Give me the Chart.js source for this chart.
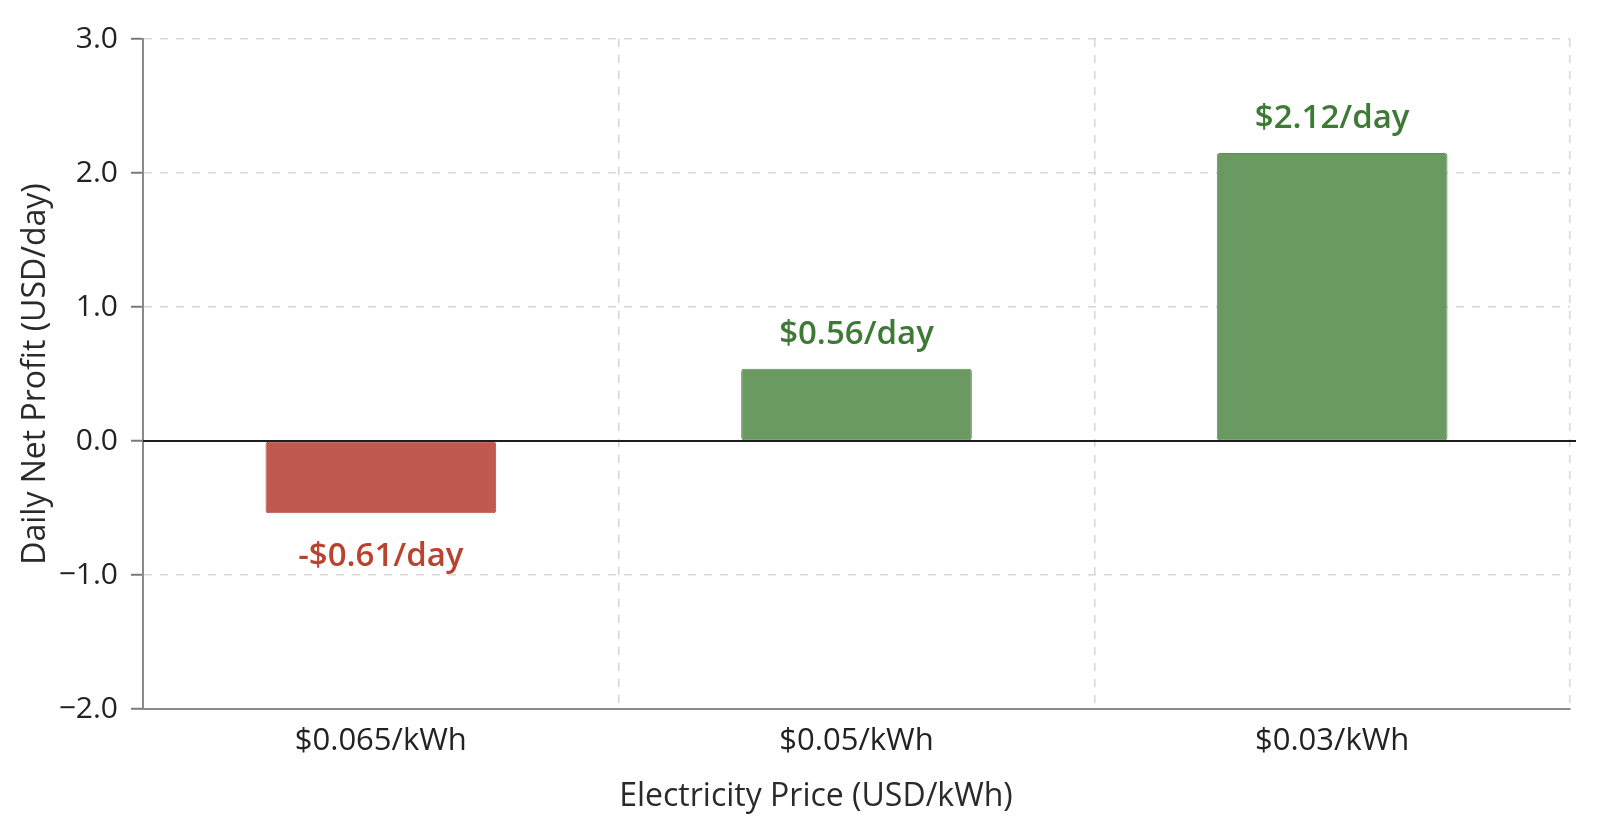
<!DOCTYPE html>
<html><head><meta charset="utf-8">
<script src="https://cdn.jsdelivr.net/npm/chart.js@4.4.1/dist/chart.umd.min.js"></script>
<style>html,body{margin:0;padding:0;background:#fff}#wrap{width:1600px;height:834px}</style>
</head><body><div id="wrap"><canvas id="c" width="1600" height="834"></canvas></div>
<script>
const categories = ['$0.065/kWh', '$0.05/kWh', '$0.03/kWh'];
const profitValues = [-0.54, 0.54, 2.15];
const valueLabels = ['-$0.61/day', '$0.56/day', '$2.12/day'];
const yMin = -2, yMax = 3, yStep = 1;
const xTitle = 'Electricity Price (USD/kWh)';
const yTitle = 'Daily Net Profit (USD/day)';

const FONT = '"Open Sans", "Noto Sans", sans-serif';

const zeroLine = {
  id: 'zeroLine',
  afterDatasetsDraw(chart) {
    const {ctx, chartArea} = chart;
    const y = chart.scales.y.getPixelForValue(0);
    ctx.save();
    ctx.strokeStyle = '#1e1e1e';
    ctx.lineWidth = 2;
    ctx.beginPath();
    ctx.moveTo(chartArea.left, y);
    ctx.lineTo(chartArea.right + 6, y);
    ctx.stroke();
    ctx.restore();
  }
};

const valueLabelPlugin = {
  id: 'valueLabels',
  afterDatasetsDraw(chart) {
    const ctx = chart.ctx;
    const meta = chart.getDatasetMeta(0);
    ctx.save();
    ctx.font = '600 33px ' + FONT;
    ctx.textAlign = 'center';
    ctx.textBaseline = 'middle';
    meta.data.forEach((bar, i) => {
      const v = profitValues[i];
      ctx.fillStyle = v < 0 ? '#b8432f' : '#3e7a36';
      const y = v < 0 ? bar.y + 43 : bar.y - 34;
      ctx.fillText(valueLabels[i], bar.x, y);
    });
    ctx.restore();
  }
};

// x-axis title, centred on the page as in the reference
const xTitlePlugin = {
  id: 'xTitle',
  afterDraw(chart) {
    const ctx = chart.ctx;
    ctx.save();
    ctx.font = '32px ' + FONT;
    ctx.fillStyle = '#2a2a2a';
    ctx.textAlign = 'center';
    ctx.textBaseline = 'middle';
    ctx.fillText(xTitle, chart.width / 2 + 16, chart.scales.x.bottom - 37);
    ctx.restore();
  }
};

function draw() {
  new Chart(document.getElementById('c'), {
    type: 'bar',
    data: {
      labels: categories,
      datasets: [{
        data: profitValues,
        backgroundColor: profitValues.map(v => v < 0 ? '#c05a50' : '#6a9a62'),
        borderColor: profitValues.map(v => v < 0 ? '#b24e44' : '#5f8f57'),
        borderWidth: 1,
        borderRadius: 3,
        borderSkipped: false,
        categoryPercentage: 1,
        barPercentage: 0.485
      }]
    },
    options: {
      responsive: false,
      devicePixelRatio: 1,
      animation: false,
      layout: {padding: {left: 0, top: 39, right: 30, bottom: 0}},
      plugins: {legend: {display: false}, tooltip: {enabled: false}},
      scales: {
        x: {
          grid: {
            offset: true,
            drawTicks: false,
            color: ctx => (ctx.index === 0 || ctx.index === categories.length) ? 'rgba(0,0,0,0)' : '#d6d6d6',
            lineWidth: 1.5
          },
          border: {display: true, color: '#8a8a8a', width: 2, dash: [8, 8]},
          ticks: {color: '#222', font: {family: FONT, size: 31}, padding: 14},
          title: {display: false, text: xTitle},
          afterFit: s => { s.height = 125; }
        },
        y: {
          min: yMin, max: yMax,
          ticks: {
            stepSize: yStep,
            color: '#222',
            font: {family: FONT, size: 30},
            padding: 13,
            callback: v => (v < 0 ? '\u2212' : '') + Math.abs(v).toFixed(1)
          },
          grid: {
            drawTicks: true,
            tickLength: 12,
            tickColor: '#7a7a7a',
            tickWidth: 2,
            tickBorderDash: [],
            color: ctx => (ctx.tick && ctx.tick.value === 0) ? 'rgba(0,0,0,0)' : '#d6d6d6',
            lineWidth: 1.5
          },
          border: {display: true, color: '#8a8a8a', width: 2, dash: [8, 8]},
          title: {display: true, text: yTitle, color: '#2a2a2a', font: {family: FONT, size: 32}, padding: {top: 17, bottom: 0}},
          afterFit: s => { s.width = 143; }
        }
      }
    },
    plugins: [zeroLine, valueLabelPlugin, xTitlePlugin]
  });
}

Promise.all([
  document.fonts.load('30px "Open Sans"'),
  document.fonts.load('600 33px "Open Sans"')
]).then(draw, draw);
</script>
</body></html>
